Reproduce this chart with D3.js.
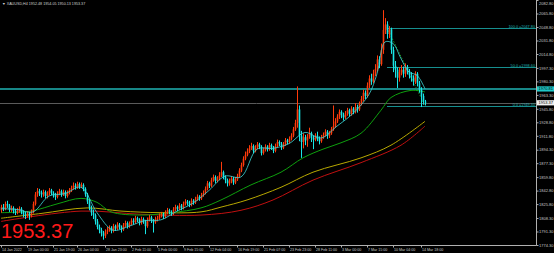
<!DOCTYPE html>
<html>
<head>
<meta charset="utf-8">
<script src="https://cdn.jsdelivr.net/npm/d3@7"></script>
<style>
html, body { margin: 0; padding: 0; background: #000; }
svg { display: block; }
text { font-family: "Liberation Sans", Arial, sans-serif; }
</style>
</head>
<body>
<svg id="chart" width="554" height="253"></svg>
<script>
// XAUUSD H4 candles (one entry per bar)
var opens = [1818,1822,1820,1826,1824,1819,1821,1817,1815,1818,1820,1816,1813,1812,1814,1811,
  1816,1826,1838,1842,
  1840,1838,1841,1836,1839,1843,1840,1837,1835,1839,1842,1838,1841,1836,1840,1843,
  1846,1849,1847,1851,1848,1850,
  1845,1838,1829,1821,
  1815,1812,1804,1797,1793,1789,1786,
  1791,1793,1796,1792,1798,1795,1800,1797,1794,1799,1802,1798,
  1801,1805,1803,1808,1806,1802,1807,1804,
  1798,1806,1809,1805,1803,
  1807,1808,1811,1813,1810,1815,1818,1816,1814,1819,1822,1820,1824,1821,1826,1829,1827,1825,1830,1828,1832,1835,1833,
  1837,1840,1845,1852,1849,1856,1860,1855,
  1858,1862,
  1866,1860,1856,1852,1855,1858,1853,1857,
  1861,1868,1875,1883,1888,
  1892,1896,1899,1893,1897,1901,
  1898,1890,1894,1898,1895,1900,1897,
  1893,1899,1904,1902,1897,1901,1906,1904,
  1908,1912,1920,
  1928,1945,1912,1904,
  1910,1906,1911,1915,1909,1907,1912,1908,1905,
  1910,1913,1917,1912,1915,1920,1924,
  1930,1936,1942,
  1938,1935,1940,1944,1939,1946,1942,1948,
  1945,1952,1958,1966,
  1962,1975,1984,1980,
  1990,1996,2008,2002,
  2020,
  2045,2052,2040,
  2046,2020,2000,1995,1985,
  1992,1995,1990,1998,1993,
  1988,1985,1980,1990,
  1978,1970,1962,1955];
var closes = [1822,1820,1826,1824,1819,1821,1817,1815,1818,1820,1816,1813,1812,1814,1811,1816,
  1826,1838,1842,1840,
  1838,1841,1836,1839,1843,1840,1837,1835,1839,1842,1838,1841,1836,1840,1843,1846,
  1849,1847,1851,1848,1850,1845,
  1838,1829,1821,1815,
  1812,1804,1797,1793,1789,1786,1791,
  1793,1796,1792,1798,1795,1800,1797,1794,1799,1802,1798,1801,
  1805,1803,1808,1806,1802,1807,1804,1798,
  1806,1809,1805,1803,1807,
  1808,1811,1813,1810,1815,1818,1816,1814,1819,1822,1820,1824,1821,1826,1829,1827,1825,1830,1828,1832,1835,1833,1837,
  1840,1845,1852,1849,1856,1860,1855,1858,
  1862,1866,
  1860,1856,1852,1855,1858,1853,1857,1861,
  1868,1875,1883,1888,1892,
  1896,1899,1893,1897,1901,1898,
  1890,1894,1898,1895,1900,1897,1893,
  1899,1904,1902,1897,1901,1906,1904,1908,
  1912,1920,1928,
  1945,1912,1904,1910,
  1906,1911,1915,1909,1907,1912,1908,1905,1910,
  1913,1917,1912,1915,1920,1924,1930,
  1936,1942,1938,
  1935,1940,1944,1939,1946,1942,1948,1945,
  1952,1958,1966,1962,
  1975,1984,1980,1990,
  1996,2008,2002,2020,
  2045,
  2052,2040,2046,
  2020,2000,1995,1985,1992,
  1995,1990,1998,1993,1988,
  1985,1980,1990,1978,
  1970,1962,1955,1953.37];
var highs = [1825,1826,1829,1830,1826,1824,1823,1820,1821,1823,1822,1818,1816,1817,1816,1819,
  1829,1841,1846,1845,
  1843,1844,1843,1842,1846,1845,1842,1840,1842,1845,1844,1844,1843,1843,1846,1849,
  1853,1852,1854,1853,1853,1852,
  1847,1840,1832,1824,
  1819,1814,1807,1800,1796,1792,1794,
  1797,1799,1798,1801,1800,1803,1802,1799,1802,1805,1804,1804,
  1808,1808,1811,1810,1808,1810,1809,1806,
  1809,1812,1811,1807,1810,
  1811,1814,1816,1815,1818,1821,1820,1818,1822,1825,1824,1827,1826,1829,1832,1831,1830,1833,1832,1835,1838,1837,1840,
  1843,1848,1855,1854,1859,1863,1862,1861,
  1866,1879,
  1868,1862,1858,1858,1861,1860,1860,1864,
  1871,1878,1886,1892,1896,
  1900,1903,1901,1900,1904,1903,
  1900,1897,1901,1900,1903,1902,1899,
  1902,1907,1906,1904,1904,1909,1908,1911,
  1915,1923,1932,
  1974,1950,1918,1915,
  1913,1914,1922,1917,1912,1915,1917,1911,1913,
  1916,1920,1919,1918,1923,1950,1934,
  1939,1945,1944,
  1941,1943,1947,1946,1949,1948,1953,1951,
  1955,1962,1970,1969,
  1979,1988,1990,1995,
  2002,2013,2012,2028,
  2070,
  2060,2056,2050,
  2048,2024,2006,1998,1998,
  2001,1999,2003,2001,1996,
  1992,1988,1993,1992,
  1981,1973,1965,1957];
var lows = [1815,1817,1818,1821,1816,1816,1814,1812,1813,1815,1813,1809,1807,1809,1806,1809,
  1814,1824,1835,1836,
  1834,1835,1833,1833,1837,1837,1834,1831,1833,1837,1835,1836,1833,1834,1838,1841,
  1844,1844,1845,1845,1846,1842,
  1835,1826,1818,1811,
  1807,1800,1794,1789,1785,1781,1783,
  1788,1791,1789,1790,1792,1793,1794,1790,1792,1797,1795,1796,
  1799,1800,1801,1803,1799,1800,1801,1788,
  1796,1804,1802,1790,1801,
  1804,1806,1809,1807,1808,1813,1813,1811,1812,1817,1817,1818,1818,1819,1824,1824,1822,1823,1825,1826,1830,1830,1831,
  1835,1838,1843,1846,1847,1854,1852,1853,
  1856,1860,
  1857,1852,1848,1849,1852,1850,1851,1855,
  1859,1866,1873,1881,1886,
  1890,1894,1890,1891,1895,1895,
  1887,1888,1892,1892,1893,1894,1890,
  1891,1897,1899,1894,1895,1899,1901,1902,
  1906,1910,1918,
  1922,1905,1884,1896,
  1900,1898,1908,1904,1895,1905,1905,1901,1903,
  1908,1911,1908,1909,1913,1918,1922,
  1928,1933,1934,
  1931,1933,1937,1936,1937,1939,1940,1941,
  1943,1950,1955,1958,
  1960,1972,1976,1978,
  1987,1993,1997,2000,
  2015,
  2040,2034,2035,
  2015,1992,1985,1972,1980,
  1988,1985,1986,1989,1984,
  1980,1975,1977,1974,
  1966,1948,1951,1950];

// moving averages, sampled at a few bars
var fastIdx = [0,8,16,24,32,40,48,56,64,72,80,88,96,104,112,120,128,136,144,152,160,168,176,184,188,192,196,200,204,208,212];
var fastMA = [1820,1819,1816,1836,1839,1847,1815,1793,1798,1805,1806,1817,1827,1843,1861,1860,1895,1896,1902,1916,1909,1924,1940,1964,1990,2030,2028,2009,1992,1988,1971];
var greenIdx = [0,15,28,40,48,55,70,85,100,110,125,140,151,161,170,180,190,195,205,212];
var greenMA = [1815,1817,1826,1833,1828,1816,1812,1815,1821,1831,1850,1866,1884,1895,1903,1915,1944,1960,1969,1967];
var yellowIdx = [0,20,43,60,80,100,110,123,140,156,180,195,212];
var yellowMA = [1808,1814,1821,1817,1815,1816,1822,1831,1847,1866,1884,1900,1930];
var redIdx = [0,40,70,100,120,136,156,180,200,212];
var redMA = [1804,1817,1813,1812,1818,1831,1856,1878,1900,1924];

// axis ticks
var priceTicks = [1774.30,1791.30,1808.30,1825.80,1842.80,1859.80,1877.30,1894.30,1911.80,1928.80,1945.80,1963.30,1980.30,1997.30,2014.80,2031.80,2048.80,2065.80,2082.80];
var timeTickIdx = [0,13,26,38,52,65,78,91,104,118,131,144,157,170,183,196,210];
var timeLabels = ["14 Jan 2022","19 Jan 00:00","21 Jan 19:00","26 Jan 04:00","28 Jan 23:00","2 Feb 11:00","5 Feb 00:00","9 Feb 15:00","12 Feb 04:00","16 Feb 19:00","21 Feb 07:00","23 Feb 23:00","28 Feb 11:00","3 Mar 00:00","7 Mar 15:00","10 Mar 04:00","14 Mar 18:00"];

// fibonacci + horizontal lines
var fibLevels = ["100.0", "50.0", "0.0"];
var fibPrices = [2047.80, 1998.60, 1949.40];
var fibStartIdx = 193, fibEndIdx = 212;
var hLinePrice = 1970.81;
var bidPrice = 1953.37;

if (opens.length != closes.length || highs.length != closes.length || lows.length != closes.length) {
  throw new Error("length mismatch " + opens.length + " " + closes.length + " " + highs.length + " " + lows.length);
}

var plotRight = 536, plotBottom = 245;
var svg = d3.select("#chart");
svg.append("rect").attr("width", 554).attr("height", 253).attr("fill", "#000");

var x = d3.scaleLinear().domain([0, 212]).range([1, 425]);
var y = d3.scaleLinear().domain([1774.3, 2082.8]).range([plotBottom, 0]);

var plot = svg.append("g");

// horizontal cyan line and bid line
plot.append("line").attr("x1", 0).attr("x2", plotRight)
  .attr("y1", y(hLinePrice)).attr("y2", y(hLinePrice))
  .attr("stroke", "#1fb5b5").attr("stroke-width", 1.5);
plot.append("line").attr("x1", 0).attr("x2", plotRight)
  .attr("y1", Math.round(y(bidPrice)) + 0.5).attr("y2", Math.round(y(bidPrice)) + 0.5)
  .attr("stroke", "#5a5a5a").attr("stroke-width", 1);

// fib levels
fibPrices.forEach(function(p, k) {
  var yy = Math.round(y(p)) + 0.5;
  plot.append("line").attr("x1", x(fibStartIdx)).attr("x2", plotRight)
    .attr("y1", yy).attr("y2", yy).attr("stroke", "#168f8f").attr("stroke-width", 1);
  plot.append("text").attr("x", plotRight - 1).attr("y", yy - 1)
    .attr("text-anchor", "end").attr("font-size", 3.8).attr("fill", "#1fb0b0")
    .text(fibLevels[k] + " =" + p.toFixed(2));
});
plot.append("line")
  .attr("x1", x(fibStartIdx)).attr("y1", y(fibPrices[0]))
  .attr("x2", x(fibEndIdx)).attr("y2", y(fibPrices[2]))
  .attr("stroke", "#1f8f1f").attr("stroke-width", 1).attr("stroke-dasharray", "1.5,1.5");

// moving averages
function maLine(idx, vals, color, w) {
  var pts = idx.map(function(d, k) { return [x(d), y(vals[k])]; });
  plot.append("path").attr("d", d3.line().curve(d3.curveCatmullRom)(pts))
    .attr("fill", "none").attr("stroke", color).attr("stroke-width", w);
}
maLine(redIdx, redMA, "#c01010", 1);
maLine(yellowIdx, yellowMA, "#b8a800", 1);
maLine(greenIdx, greenMA, "#0ea00e", 1);

// candles: up = orange-red, down = aqua
var bars = plot.append("g");
closes.forEach(function(c, i) {
  var o = opens[i];
  var col = c >= o ? "#ff3a0a" : "#18e6e6";
  var cx = x(i);
  bars.append("rect").attr("x", cx).attr("width", 1)
    .attr("y", y(highs[i])).attr("height", Math.max(1, y(lows[i]) - y(highs[i])))
    .attr("fill", col);
  var top = y(Math.max(o, c)), bot = y(Math.min(o, c));
  bars.append("rect").attr("x", cx - 0.3).attr("width", 1.6)
    .attr("y", top).attr("height", Math.max(0.8, bot - top))
    .attr("fill", col);
});

maLine(fastIdx, fastMA, "#3fd8d8", 0.8);

// frame
svg.append("line").attr("x1", plotRight + 0.5).attr("x2", plotRight + 0.5)
  .attr("y1", 0).attr("y2", plotBottom + 0.5).attr("stroke", "#b0b0b0");
svg.append("line").attr("x1", 0).attr("x2", plotRight + 0.5)
  .attr("y1", plotBottom + 0.5).attr("y2", plotBottom + 0.5).attr("stroke", "#b0b0b0");

// price axis
var yAxis = d3.axisRight(y).tickValues(priceTicks).tickSize(2)
  .tickFormat(d3.format(".2f"));
var ya = svg.append("g").attr("transform", "translate(" + (plotRight + 0.5) + ",0)").call(yAxis);
ya.select(".domain").remove();
ya.selectAll("line").attr("stroke", "#b0b0b0");
ya.selectAll("text").attr("x", 2.5).attr("font-size", 4).attr("fill", "#c8c8c8")
  .attr("font-family", "Liberation Sans, Arial, sans-serif")
  .attr("dy", function(d) { return y(d) < 3 ? "1.1em" : "0.32em"; });

// time axis
var xAxis = d3.axisBottom(x).tickValues(timeTickIdx).tickSize(2)
  .tickFormat(function(d, k) { return timeLabels[k]; });
var xa = svg.append("g").attr("transform", "translate(0," + (plotBottom + 0.5) + ")").call(xAxis);
xa.select(".domain").remove();
xa.selectAll("line").attr("stroke", "#b0b0b0");
xa.selectAll("text").attr("text-anchor", "start").attr("dx", 0.5).attr("y", 3)
  .attr("font-size", 3.6).attr("fill", "#c8c8c8")
  .attr("font-family", "Liberation Sans, Arial, sans-serif");

// price boxes on the scale
function priceBox(p, bg, label) {
  var yy = y(p);
  svg.append("rect").attr("x", plotRight + 1).attr("y", yy - 2.6).attr("width", 17).attr("height", 5.2).attr("fill", bg);
  svg.append("text").attr("x", plotRight + 2.5).attr("y", yy).attr("dy", "0.35em")
    .attr("font-size", 4).attr("fill", "#000").text(label);
}
priceBox(hLinePrice, "#1fc8c8", hLinePrice.toFixed(2));
priceBox(bidPrice, "#f0f0f0", bidPrice.toFixed(2));

// header and big price
svg.append("text").attr("x", 2).attr("y", 4.6).attr("font-size", 3.7).attr("fill", "#d0d0d0")
  .text("\u25BC XAUUSD,H4  1952.48 1954.05 1950.13 1953.37");
svg.append("text").attr("x", 1).attr("y", 238).attr("font-size", 20).attr("fill", "#ff1a1a")
  .text(bidPrice.toFixed(2));
</script>
</body>
</html>
